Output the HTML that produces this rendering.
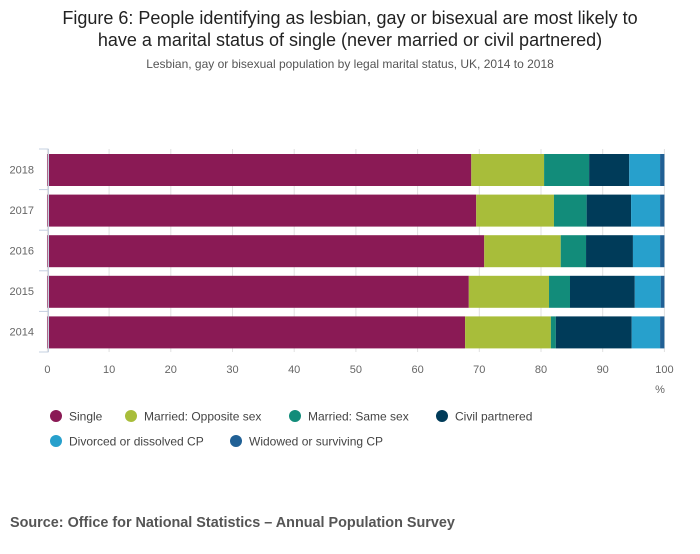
<!DOCTYPE html>
<html><head><meta charset="utf-8"><style>
body{margin:0;background:#fff;font-family:"Liberation Sans",sans-serif;}
</style></head><body>
<svg width="700" height="549" viewBox="0 0 700 549" xmlns="http://www.w3.org/2000/svg" style="font-family:'Liberation Sans',sans-serif">
<text x="350" y="24" text-anchor="middle" font-size="18" fill="#222">Figure 6: People identifying as lesbian, gay or bisexual are most likely to</text>
<text x="350" y="46" text-anchor="middle" font-size="18" fill="#222">have a marital status of single (never married or civil partnered)</text>
<text x="350" y="68" text-anchor="middle" font-size="12" fill="#555">Lesbian, gay or bisexual population by legal marital status, UK, 2014 to 2018</text>
<g id="grid"></g>
<g id="bars"></g>
<g id="axes"></g>
<g id="legend"></g>
<text x="10" y="527" font-size="14.4" font-weight="bold" fill="#555">Source: Office for National Statistics – Annual Population Survey</text>
</svg>
<script>
const years = ["2018","2017","2016","2015","2014"];
const seriesNames = ["Single","Married: Opposite sex","Married: Same sex","Civil partnered","Divorced or dissolved CP","Widowed or surviving CP"];
const single   = [68.7, 69.5, 70.8, 68.3, 67.7];
const oppSex   = [11.8, 12.6, 12.4, 13.0, 13.9];
const sameSex  = [7.3, 5.3, 4.1, 3.4, 0.8];
const civil    = [6.5, 7.2, 7.6, 10.5, 12.3];
const divorced = [5.0, 4.7, 4.4, 4.2, 4.6];
const widowed  = [0.7, 0.7, 0.7, 0.6, 0.7];
const xTicks = [0,10,20,30,40,50,60,70,80,90,100];
const colors = ["#8a1a55","#a8bd3a","#128c7a","#003b59","#27a0cc","#206095"];
const series=[single,oppSex,sameSex,civil,divorced,widowed];
const NS="http://www.w3.org/2000/svg";
const x0=47.4,x1=664.4,yTop=149,band=40.6;
const xs=v=>x0+(x1-x0)*v/100;
function mk(tag,attrs,parent){const e=document.createElementNS(NS,tag);for(const k in attrs)e.setAttribute(k,attrs[k]);document.getElementById(parent).appendChild(e);return e;}
xTicks.forEach(t=>{
  const l=mk('line',{x1:xs(t),x2:xs(t),y1:yTop,y2:yTop+band*years.length,stroke:'#e0e0e0'},'grid');
  
  
  const tx=mk('text',{x:xs(t),y:373,'text-anchor':'middle','font-size':11,fill:'#666'},'axes');
  tx.textContent=t;
  
  
});
years.forEach((y,i)=>{
  let acc=0;
  series.forEach((s,j)=>{
    const r=mk('rect',{x:xs(acc),y:yTop+i*band+5,width:xs(acc+s[i])-xs(acc),height:band-8.6,fill:colors[j]},'bars');
    
    
    acc+=s[i];
  });
  const t=mk('text',{x:34,y:yTop+i*band+band/2+4,'text-anchor':'end','font-size':11,fill:'#666'},'axes');
  t.textContent=y;
  
  
});
const ax=mk('line',{x1:48.5,x2:48.5,y1:yTop,y2:yTop+band*years.length,stroke:'#c5d0e0'},'axes');


for(let i=0;i<=years.length;i++){
  const tk=mk('line',{x1:39,x2:48.5,y1:yTop+i*band,y2:yTop+i*band,stroke:'#c5d0e0'},'axes');
  
  
}
const pct=mk('text',{x:660,y:393,'text-anchor':'middle','font-size':11,fill:'#666'},'axes');
pct.textContent='%';


const legPos=[[56,416],[131,416],[295,416],[442,416],[56,441],[236,441]];
seriesNames.forEach((n,j)=>{
  const c=mk('circle',{cx:legPos[j][0],cy:legPos[j][1],r:6,fill:colors[j]},'legend');
  
  
  const t=mk('text',{x:legPos[j][0]+13,y:legPos[j][1]+4.5,'font-size':12,fill:'#444'},'legend');
  t.textContent=n;
  
  
});
</script>
</body></html>
